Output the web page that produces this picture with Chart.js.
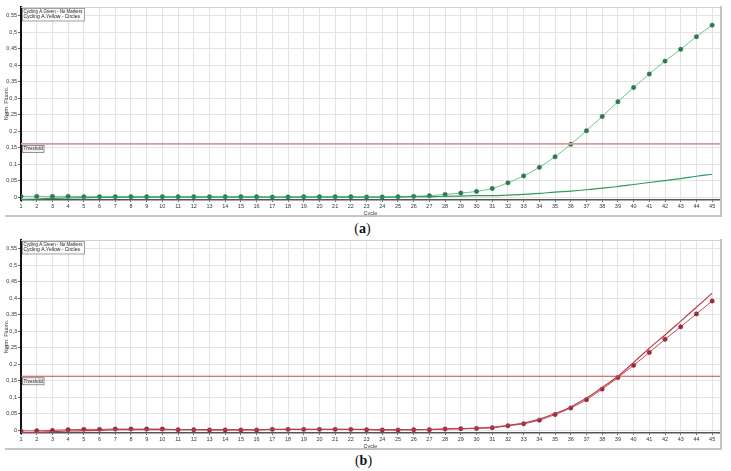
<!DOCTYPE html>
<html>
<head>
<meta charset="utf-8">
<script src="https://cdn.jsdelivr.net/npm/chart.js@4"></script>
<style>
  html, body { margin: 0; padding: 0; background: #fff; }
  body { width: 731px; height: 471px; position: relative; overflow: hidden; }
  .panel { position: absolute; left: 0; width: 731px; height: 220px; }
  .cap { position: absolute; width: 731px; left: 0; text-align: center; font-family: "Liberation Serif", "DejaVu Serif", serif; font-size: 14px; color: #111; }
  .cap b { font-weight: bold; }
</style>
</head>
<body>
<div class="panel" style="top:0px"><canvas id="ca" width="731" height="220"></canvas></div>
<div class="cap" style="top:221px; left:-3px">(<b>a</b>)</div>
<div class="panel" style="top:233px"><canvas id="cb" width="731" height="220"></canvas></div>
<div class="cap" style="top:453px; left:-2px">(<b>b</b>)</div>
<script>
// ---- data ----
const cycles = [1,2,3,4,5,6,7,8,9,10,11,12,13,14,15,16,17,18,19,20,21,22,23,24,25,26,27,28,29,30,31,32,33,34,35,36,37,38,39,40,41,42,43,44,45];
const xTickLabels = ["1","2","3","4","5","6","7","8","9","10","11","12","13","14","15","16","17","18","19","20","21","22","23","24","25","26","27","28","29","30","31","32","33","34","35","36","37","38","39","40","41","42","43","44","45"];
const yTickValues = [0, 0.05, 0.1, 0.15, 0.2, 0.25, 0.3, 0.35, 0.4, 0.45, 0.5, 0.55];
const yTickLabels = ["0", "0,05", "0,1", "0,15", "0,2", "0,25", "0,3", "0,35", "0,4", "0,45", "0,5", "0,55"];
const legendLabels = ["Cycling A.Green - No Markers", "Cycling A.Yellow - Circles"];
const thresholdLabel = "Threshold";
const xTitle = "Cycle";
const yTitle = "Norm. Fluoro.";

// panel (a)
const aGreenNoMarkers = [-0.006,-0.005,-0.003,-0.002,-0.001,0.000,0.000,0.001,0.001,0.001,0.001,0.001,0.001,0.001,0.001,0.001,0.001,0.001,0.001,0.001,0.001,0.001,0.001,0.001,0.001,0.002,0.002,0.003,0.004,0.005,0.005,0.007,0.009,0.012,0.016,0.019,0.023,0.028,0.033,0.039,0.045,0.051,0.057,0.064,0.070];
const aYellowCircles = [0.003,0.003,0.003,0.003,0.002,0.002,0.002,0.002,0.002,0.002,0.002,0.002,0.002,0.002,0.002,0.002,0.001,0.001,0.002,0.002,0.002,0.002,0.001,0.001,0.002,0.003,0.005,0.009,0.013,0.018,0.027,0.044,0.065,0.091,0.123,0.161,0.202,0.245,0.290,0.333,0.374,0.413,0.449,0.487,0.522];
const thresholdA = 0.162;

// panel (b)
const bGreenNoMarkers = [-0.007,-0.006,-0.004,-0.002,-0.001,0.000,0.002,0.002,0.002,0.002,0.002,0.002,0.002,0.002,0.002,0.002,0.003,0.003,0.003,0.003,0.003,0.003,0.003,0.002,0.002,0.002,0.003,0.004,0.005,0.007,0.009,0.015,0.022,0.034,0.051,0.071,0.098,0.130,0.164,0.206,0.249,0.289,0.331,0.373,0.416];
const bYellowCircles = [-0.002,-0.001,0.000,0.002,0.003,0.003,0.004,0.004,0.004,0.004,0.002,0.002,0.001,0.001,0.001,0.001,0.003,0.003,0.003,0.003,0.003,0.003,0.002,0.001,0.001,0.002,0.002,0.004,0.005,0.006,0.008,0.014,0.020,0.031,0.048,0.068,0.093,0.125,0.160,0.197,0.236,0.276,0.314,0.353,0.392];
const thresholdB = 0.164;

const xMin = 1, xMax = 45.5, yMin = -0.008, yMax = 0.577;

function pts(arr) { return cycles.map((c, i) => ({ x: c, y: arr[i] })); }
function labelFor(v) {
  for (let i = 0; i < yTickValues.length; i++) if (Math.abs(yTickValues[i] - v) < 1e-6) return yTickLabels[i];
  return '';
}

const framePlugin = {
  id: 'frame',
  afterDatasetsDraw(chart) {
    const ctx = chart.ctx, a = chart.chartArea;
    const o = chart.options.plugins.frame;
    ctx.save();
    // top border
    ctx.strokeStyle = '#d4d4d4'; ctx.lineWidth = 1;
    ctx.beginPath(); ctx.moveTo(a.left, a.top + 0.5); ctx.lineTo(a.right, a.top + 0.5); ctx.stroke();
    // right border
    ctx.strokeStyle = '#c4c4c4'; ctx.lineWidth = 2;
    ctx.beginPath(); ctx.moveTo(a.right + 1, a.top - 1); ctx.lineTo(a.right + 1, 217); ctx.stroke();
    // bottom separator
    ctx.beginPath(); ctx.moveTo(5, 216); ctx.lineTo(a.right + 2, 216); ctx.stroke();
    // legend box
    const lx = a.left + 1, ly = a.top + 1, lw = 62, lh = 12.5;
    ctx.fillStyle = '#fafafa'; ctx.fillRect(lx, ly, lw, lh);
    ctx.strokeStyle = '#8a8a8a'; ctx.lineWidth = 0.8; ctx.strokeRect(lx + 0.5, ly + 0.5, lw, lh);
    ctx.fillStyle = '#222'; ctx.font = '5px "Liberation Sans", Arial, sans-serif';
    ctx.textBaseline = 'middle'; ctx.textAlign = 'left';
    ctx.fillText(legendLabels[0], lx + 1.5, ly + 3.3, lw - 3);
    ctx.fillText(legendLabels[1], lx + 1.5, ly + 9, lw - 3);
    // threshold label
    const ty = chart.scales.y.getPixelForValue(o.threshold);
    const tx = a.left + 1, tw = 21.5, th = 7;
    ctx.fillStyle = '#f0f0f0'; ctx.fillRect(tx, ty + 1, tw, th);
    ctx.strokeStyle = '#777'; ctx.lineWidth = 0.8; ctx.strokeRect(tx + 0.5, ty + 1.5, tw, th);
    ctx.fillStyle = '#222';
    ctx.fillText(thresholdLabel, tx + 1.5, ty + 5, tw - 2);
    ctx.restore();
  }
};

function makeChart(id, noMark, circles, thr, c) {
  return new Chart(document.getElementById(id), {
    type: 'line',
    data: {
      datasets: [
        { data: [{ x: xMin, y: thr }, { x: xMax, y: thr }], borderColor: c.thr, borderWidth: c.thrW, pointRadius: 0, tension: 0 },
        { data: pts(noMark), borderColor: c.line2, borderWidth: 1.2, pointRadius: 0, cubicInterpolationMode: 'monotone' },
        { data: pts(circles), borderColor: c.line1, borderWidth: 1, pointRadius: 2.2, pointBackgroundColor: c.mark, pointBorderColor: c.mark, pointBorderWidth: 0.5, cubicInterpolationMode: 'monotone' }
      ]
    },
    plugins: [framePlugin],
    options: {
      responsive: false, animation: false, events: [],
      layout: { padding: { top: 7, right: 11, left: 0, bottom: 0 } },
      plugins: { legend: { display: false }, tooltip: { enabled: false }, frame: { threshold: thr } },
      scales: {
        x: {
          type: 'linear', min: xMin, max: xMax,
          afterFit: s => { s.height = 20; },
          grid: { color: '#e3e3e3', lineWidth: 1, tickLength: 2, tickColor: '#666' },
          border: { color: '#555', width: 1.5 },
          ticks: { stepSize: 1, includeBounds: false, autoSkip: false, maxRotation: 0, padding: 1,
                   color: '#333', font: { family: '"Liberation Sans", Arial, sans-serif', size: 5.5 },
                   callback: (v) => { const i = cycles.indexOf(v); return i >= 0 ? xTickLabels[i] : ''; } },
          title: { display: true, text: xTitle, color: '#333', padding: { top: 0, bottom: 3.2 },
                   font: { family: '"Liberation Sans", Arial, sans-serif', size: 5.5 } }
        },
        y: {
          type: 'linear', min: yMin, max: yMax,
          afterFit: s => { s.width = 21; },
          grid: { color: '#e3e3e3', lineWidth: 1, tickLength: 3, tickColor: '#666' },
          border: { color: '#111', width: 2 },
          ticks: { stepSize: 0.05, includeBounds: false, padding: 1, color: '#333',
                   font: { family: '"Liberation Sans", Arial, sans-serif', size: 5.5 },
                   callback: (v) => labelFor(v) },
          title: { display: true, text: yTitle, color: '#333', padding: { top: 3, bottom: 0 },
                   font: { family: '"Liberation Sans", Arial, sans-serif', size: 5.5 } }
        }
      }
    }
  });
}

makeChart('ca', aGreenNoMarkers, aYellowCircles, thresholdA,
  { thr: '#d79a9a', thrW: 1.8, line1: '#6cc48e', line2: '#2f9a5a', mark: '#2e7a4c' });
makeChart('cb', bGreenNoMarkers, bYellowCircles, thresholdB,
  { thr: '#c44a4a', thrW: 1.2, line1: '#c0505a', line2: '#b8404a', mark: '#9c2a3a' });
</script>
</body>
</html>
